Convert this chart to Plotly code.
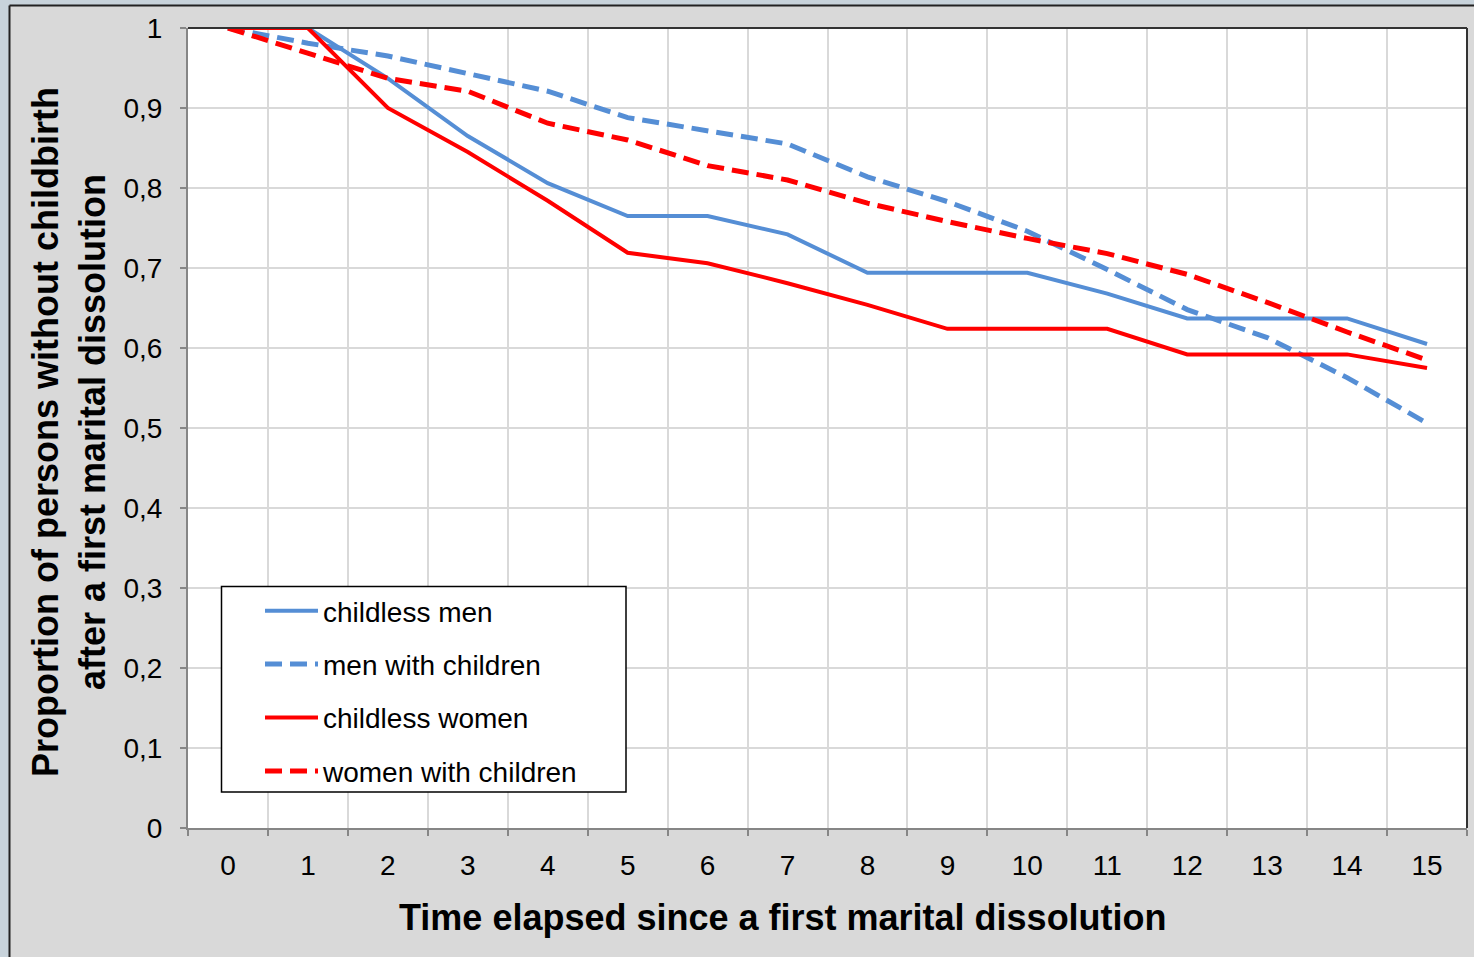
import plotly.graph_objects as go

years = [str(i) for i in range(16)]
childless_men = [1.0, 1.0, 0.937, 0.865, 0.806, 0.765, 0.765, 0.742, 0.694, 0.694, 0.694, 0.668, 0.637, 0.637, 0.637, 0.605]
men_with_children = [1.0, 0.981, 0.965, 0.943, 0.921, 0.888, 0.872, 0.855, 0.814, 0.783, 0.746, 0.698, 0.648, 0.613, 0.563, 0.506]
childless_women = [1.0, 1.0, 0.90, 0.845, 0.784, 0.719, 0.706, 0.681, 0.654, 0.624, 0.624, 0.624, 0.592, 0.592, 0.592, 0.575]
women_with_children = [1.0, 0.968, 0.937, 0.921, 0.881, 0.86, 0.828, 0.81, 0.781, 0.758, 0.737, 0.718, 0.692, 0.657, 0.62, 0.585]

series = [
    ("childless men", childless_men, "#558ED5", "solid", 4),
    ("men with children", men_with_children, "#558ED5", "17px,8px", 5),
    ("childless women", childless_women, "#FF0000", "solid", 4),
    ("women with children", women_with_children, "#FF0000", "17px,8px", 5),
]

FONT = "Liberation Sans, Arial, sans-serif"
W, H = 1474, 957
L, R, T, B = 188, 7, 28, 129
PW, PH = W - L - R, H - T - B

def px(x):
    return (x - L) / PW

def py(y):
    return (H - B - y) / PH

fig = go.Figure()
for i, (name, vals, color, dash, width) in enumerate(series):
    fig.add_trace(go.Scatter(
        x=years, y=vals, name=name, mode="lines", legendgroup=f"g{i}",
        line=dict(color=color, width=width, dash=dash),
    ))

shapes = [
    # outer bluish strips
    dict(type="rect", xref="paper", yref="paper", x0=px(0), x1=px(9), y0=py(H), y1=py(0),
         fillcolor="#C8D3DB", line=dict(width=0), layer="below"),
    dict(type="rect", xref="paper", yref="paper", x0=px(0), x1=px(W), y0=py(5), y1=py(0),
         fillcolor="#C8D3DB", line=dict(width=0), layer="below"),
    dict(type="line", xref="paper", yref="paper", x0=px(9.5), x1=px(9.5), y0=py(5.5), y1=py(H),
         line=dict(color="#222222", width=2)),
    dict(type="line", xref="paper", yref="paper", x0=px(9.5), x1=px(W), y0=py(5.5), y1=py(5.5),
         line=dict(color="#222222", width=2)),
    # plot area top / right border
    dict(type="line", xref="paper", yref="paper", x0=0, x1=1, y0=1, y1=1,
         line=dict(color="#333333", width=2)),
    dict(type="line", xref="paper", yref="paper", x0=1, x1=1, y0=0, y1=1,
         line=dict(color="#333333", width=2)),
    # legend box
    dict(type="rect", xref="paper", yref="paper", x0=px(221.5), x1=px(626), y0=py(792), y1=py(586.5),
         fillcolor="white", line=dict(color="black", width=1.5)),
]

annotations = [
    dict(text="<b>Proportion of persons without childbirth<br>after a first marital dissolution</b>",
         xref="paper", yref="paper", x=px(69), y=py(432), xanchor="center", yanchor="middle",
         textangle=-90, showarrow=False, font=dict(family=FONT, size=36, color="black")),
    dict(text="<b>Time elapsed since a first marital dissolution</b>",
         xref="paper", yref="paper", x=px(783), y=py(917), xanchor="center", yanchor="middle",
         showarrow=False, font=dict(family=FONT, size=36, color="black")),
]

fig.update_layout(
    width=W, height=H,
    margin=dict(l=L, r=R, t=T, b=B, autoexpand=False),
    paper_bgcolor="#D9D9D9", plot_bgcolor="white",
    separators=", ",
    font=dict(family=FONT, size=28, color="black"),
    shapes=shapes, annotations=annotations,
    legend=dict(
        x=px(260), y=py(586), xanchor="left", yanchor="top",
        bgcolor="rgba(0,0,0,0)", borderwidth=0,
        font=dict(family=FONT, size=28, color="black"),
        traceorder="grouped", tracegroupgap=14, itemwidth=53,
    ),
)
fig.update_xaxes(
    type="category", tickson="boundaries", range=[-0.5, 15.5],
    showgrid=True, gridcolor="#D9D9D9", gridwidth=1.5,
    showline=True, linecolor="#868686", linewidth=2,
    ticks="outside", ticklen=6, tickcolor="#868686", tickwidth=1.5,
    tickfont=dict(family=FONT, size=28, color="black"), ticklabelstandoff=11,
    zeroline=False,
)
fig.update_yaxes(
    range=[0, 1], dtick=0.1, tick0=0,
    showgrid=True, gridcolor="#D9D9D9", gridwidth=1.5,
    showline=True, linecolor="#868686", linewidth=2,
    ticks="outside", ticklen=6, tickcolor="#868686", tickwidth=1.5,
    tickfont=dict(family=FONT, size=28, color="black"), ticklabelstandoff=12,
    zeroline=False,
)

fig.write_html("out.html", config={"displayModeBar": False},
               post_script="document.body.style.margin='0';")
